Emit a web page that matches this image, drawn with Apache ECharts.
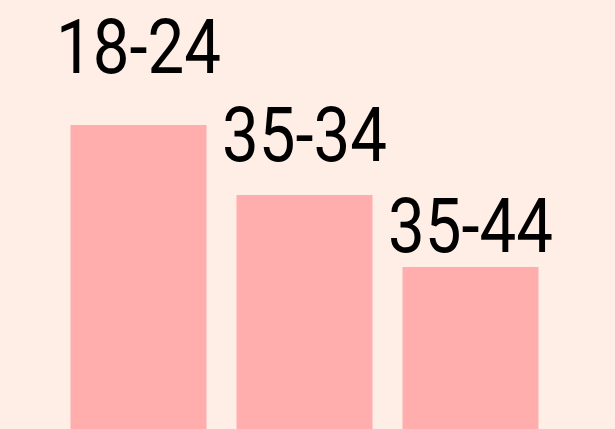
<!DOCTYPE html>
<html>
<head>
<meta charset="utf-8">
<script src="https://cdn.jsdelivr.net/npm/echarts@6/dist/echarts.min.js"></script>
<style>
  html, body { margin: 0; padding: 0; background: #FFEEE6; }
  #chart { width: 615px; height: 429px; }
</style>
</head>
<body>
<div id="chart"></div>
<script>
// age groups and their share
const ageGroups = ['18-24', '35-34', '35-44']
const shares = [30.4, 23.4, 16.2]
// gap between bar top and label baseline (px)
const labelLift = [50, 32, 13]

const FONT_SIZE = 76
const DESCENT = 17 // box bottom to baseline for verticalAlign bottom
const SQUEEZE = 0.86 // condensed look

const chart = echarts.init(document.getElementById('chart'))

chart.setOption({
  backgroundColor: '#FFEEE6',
  animation: false,
  grid: { left: 55.5, right: 61.5, top: 0, bottom: 0 },
  xAxis: {
    type: 'category',
    data: ageGroups,
    show: false
  },
  yAxis: {
    type: 'value',
    min: 0,
    max: 42.9,
    show: false
  },
  series: [
    {
      type: 'bar',
      barWidth: 136,
      itemStyle: { color: '#FFADAD' },
      data: shares
    },
    {
      type: 'custom',
      silent: true,
      data: shares.map((v, i) => [i, v]),
      encode: { x: 0, y: 1 },
      renderItem: (params, api) => {
        const i = api.value(0)
        const pt = api.coord([i, api.value(1)])
        return {
          type: 'text',
          x: pt[0],
          y: pt[1] - labelLift[i] + DESCENT,
          scaleX: SQUEEZE,
          style: {
            text: ageGroups[i],
            fontFamily: 'Roboto, sans-serif',
            fontSize: FONT_SIZE,
            fill: '#000',
            align: 'center',
            verticalAlign: 'bottom'
          }
        }
      }
    }
  ]
})
</script>
</body>
</html>
